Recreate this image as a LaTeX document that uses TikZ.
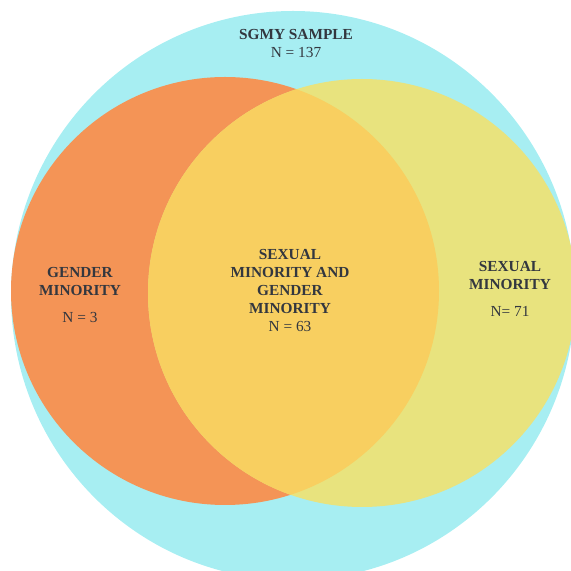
\documentclass[tikz,border=0pt]{standalone}
\usepackage{fontspec}
\setmainfont{Liberation Serif}
\usepackage{tikz}
\definecolor{samplecyan}{HTML}{A7EEF2}
\definecolor{gendorange}{HTML}{F49456}
\definecolor{sexyellow}{HTML}{E8E37E}
\definecolor{bothgold}{HTML}{F8CF60}
\definecolor{labelgray}{HTML}{33373F}
\tikzset{
  lbl/.style={align=center, text=labelgray, font=\fontsize{11.5}{13.5}\selectfont, inner sep=0pt},
}

\begin{document}
\begin{tikzpicture}[x=0.75pt, y=0.75pt]
        \useasboundingbox (0,0) rectangle (571,571);
        \clip (0,0) rectangle (571,571);
        \coordinate (S) at (293, 275.5);
        \coordinate (G) at (225, 280);
        \coordinate (X) at (362, 278);
        \fill[samplecyan] (S) ellipse [x radius=282, y radius=284.5];
        \fill[gendorange] (G) circle [radius=214];
        \fill[sexyellow] (X) circle [radius=214];
        \begin{scope}
        \clip (G) circle [radius=214];
        \fill[bothgold] (X) circle [radius=214];
        \end{scope}
        \node[lbl] (sample) at (296, 527) {\textbf{SGMY SAMPLE}\\N = 137};
        \node[lbl] (gender) at (80, 289) {\textbf{GENDER}\\\textbf{MINORITY}};
        \node[lbl] (gendern) at (80, 253) {N = 3};
        \node[lbl] (both) at (290, 280) {\textbf{SEXUAL}\\\textbf{MINORITY AND}\\\textbf{GENDER}\\\textbf{MINORITY}\\N = 63};
        \node[lbl] (sexual) at (510, 295) {\textbf{SEXUAL}\\\textbf{MINORITY}};
        \node[lbl] (sexualn) at (510, 260) {N= 71};
\end{tikzpicture}
\end{document}
